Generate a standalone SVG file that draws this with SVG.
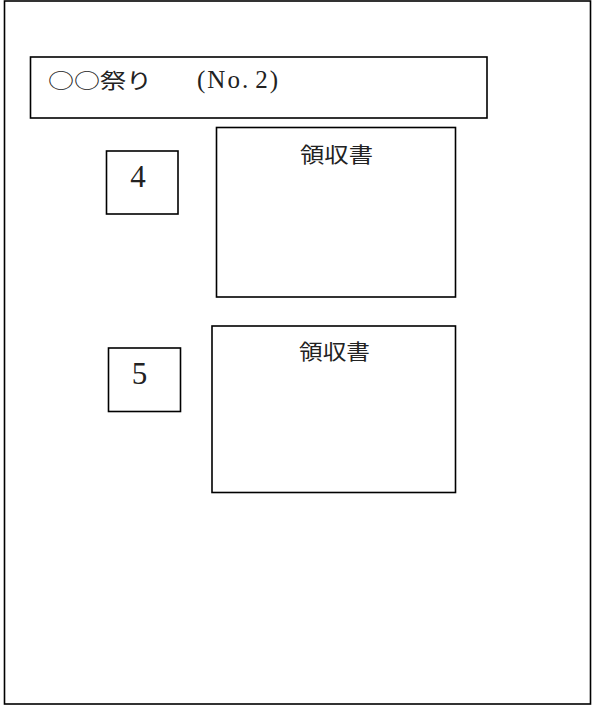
<svg xmlns="http://www.w3.org/2000/svg" width="592" height="706" viewBox="0 0 592 706">
<style>
.box{fill:#fff;stroke:#000;stroke-width:1.6}
.jp{font-family:"Noto Sans CJK JP","Noto Sans CJK SC",sans-serif;font-size:21px;fill:#222}
.lat{font-family:"Liberation Serif",serif;fill:#222}
</style>
<rect x="0" y="0" width="592" height="706" fill="#fff"/>
<g id="frame"><rect class="box" x="4.5" y="1" width="586" height="703" stroke-width="1.4"/></g>
<g id="title">
<rect class="box" x="30.5" y="57" width="456.5" height="61"/>
<text class="jp" x="48" y="88" font-size="23" textLength="104" lengthAdjust="spacingAndGlyphs">○○祭り</text>
<text class="lat" x="197" y="88" font-size="25" letter-spacing="2">(No.<tspan dx="5">2</tspan>)</text>
</g>
<g id="num4">
<rect class="box" x="106.5" y="151" width="71.5" height="63"/>
<text class="lat" x="138" y="187" font-size="31" text-anchor="middle">4</text>
</g>
<g id="receipt1">
<rect class="box" x="216.5" y="127.5" width="239" height="169.5"/>
<text class="jp" x="300" y="162" font-size="22" textLength="73" lengthAdjust="spacingAndGlyphs">領収書</text>
</g>
<g id="num5">
<rect class="box" x="108.5" y="348" width="72" height="63.5"/>
<text class="lat" x="139.5" y="383.5" font-size="31" text-anchor="middle">5</text>
</g>
<g id="receipt2">
<rect class="box" x="212" y="326" width="243.5" height="166.5"/>
<text class="jp" x="299" y="359" font-size="22" textLength="71" lengthAdjust="spacingAndGlyphs">領収書</text>
</g>
<g id="connectors"></g>
</svg>
